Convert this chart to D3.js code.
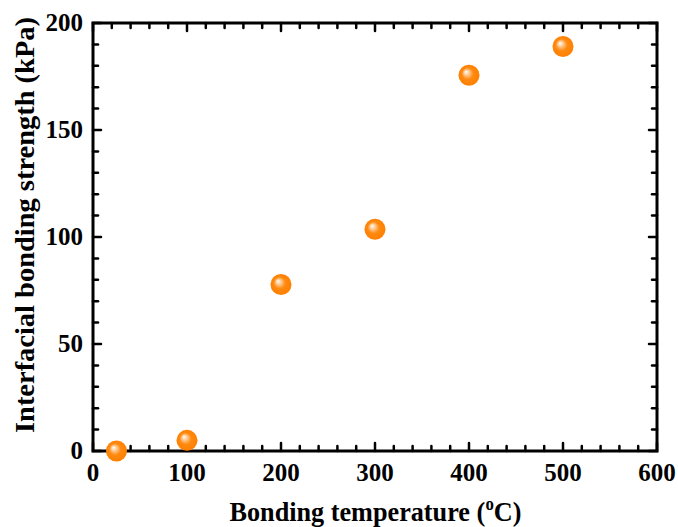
<!DOCTYPE html>
<html>
<head>
<meta charset="utf-8">
<script src="https://cdn.jsdelivr.net/npm/d3@7"></script>
<style>
  body { margin: 0; background: #fff; }
  svg text { font-family: "Liberation Serif", "Times New Roman", serif; font-weight: bold; }
</style>
</head>
<body>
<div id="chart"></div>
<script>
// Bonding temperature (°C) vs interfacial bonding strength (kPa)
const temperatures = [25, 100, 200, 300, 400, 500];
const strengths = [0, 5, 77.8, 103.6, 175.6, 189];
const xTicks = [0, 100, 200, 300, 400, 500, 600];
const yTicks = [0, 50, 100, 150, 200];

const W = 678, H = 527;
const margin = { top: 23, right: 21, bottom: 76, left: 93 };
const width = W - margin.left - margin.right;
const height = H - margin.top - margin.bottom;

const svg = d3.select("#chart").append("svg")
  .attr("width", W).attr("height", H);

const defs = svg.append("defs");
const grad = defs.append("radialGradient")
  .attr("id", "ball")
  .attr("cx", "50%").attr("cy", "50%").attr("r", "50%")
  .attr("fx", "35%").attr("fy", "33%");
grad.append("stop").attr("offset", "0%").attr("stop-color", "#ffffff");
grad.append("stop").attr("offset", "18%").attr("stop-color", "#ffd9b0");
grad.append("stop").attr("offset", "55%").attr("stop-color", "#ff8a10");
grad.append("stop").attr("offset", "100%").attr("stop-color", "#ff7f00");

const g = svg.append("g").attr("transform", `translate(${margin.left},${margin.top})`);

const x = d3.scaleLinear().domain([0, 600]).range([0, width]);
const y = d3.scaleLinear().domain([0, 200]).range([height, 0]);

const xMinor = d3.range(0, 601, 20).filter(v => v % 100 !== 0);
const yMinor = d3.range(0, 201, 10).filter(v => v % 50 !== 0);

// ticks, pointing inward on all four sides
const tickStyle = sel => sel.attr("stroke", "#000").attr("stroke-width", 2.5).attr("stroke-linecap", "round");

function xTickMarks(vals, len) {
  g.append("g").selectAll("line").data(vals).enter().append("line")
    .attr("x1", d => x(d)).attr("x2", d => x(d))
    .attr("y1", height).attr("y2", height - len).call(tickStyle);
  g.append("g").selectAll("line").data(vals).enter().append("line")
    .attr("x1", d => x(d)).attr("x2", d => x(d))
    .attr("y1", 0).attr("y2", len).call(tickStyle);
}
function yTickMarks(vals, len) {
  g.append("g").selectAll("line").data(vals).enter().append("line")
    .attr("x1", 0).attr("x2", len)
    .attr("y1", d => y(d)).attr("y2", d => y(d)).call(tickStyle);
  g.append("g").selectAll("line").data(vals).enter().append("line")
    .attr("x1", width).attr("x2", width - len)
    .attr("y1", d => y(d)).attr("y2", d => y(d)).call(tickStyle);
}
xTickMarks(xTicks, 8);
xTickMarks(xMinor, 5);
yTickMarks(yTicks, 8);
yTickMarks(yMinor, 5);

// frame
g.append("rect")
  .attr("x", 0).attr("y", 0).attr("width", width).attr("height", height)
  .attr("fill", "none").attr("stroke", "#000").attr("stroke-width", 3);

// tick labels
g.append("g").selectAll("text").data(xTicks).enter().append("text")
  .attr("x", d => x(d)).attr("y", height + 30)
  .attr("text-anchor", "middle").style("font-size", "25px")
  .text(d => d);
g.append("g").selectAll("text").data(yTicks).enter().append("text")
  .attr("x", -10).attr("y", d => y(d) + 8)
  .attr("text-anchor", "end").style("font-size", "25px")
  .text(d => d);

// x title: three pieces side by side, squeezed to the reference width
const xt = svg.append("g");
const parts = [
  { s: "Bonding temperature (", size: 28, dy: 0 },
  { s: "o", size: 18, dy: -11 },
  { s: "C)", size: 28, dy: 0 }
];
let cursor = 0;
parts.forEach(p => {
  const t = xt.append("text")
    .attr("x", cursor).attr("y", p.dy)
    .style("font-size", p.size + "px")
    .text(p.s);
  cursor += t.node().getComputedTextLength();
});
const sx = 292 / cursor;
xt.attr("transform", `translate(${375.5 - 146},521) scale(${sx},1)`);

svg.append("text")
  .attr("transform", `translate(34,225) rotate(-90)`)
  .attr("text-anchor", "middle").style("font-size", "28px")
  .attr("textLength", 416).attr("lengthAdjust", "spacingAndGlyphs")
  .text("Interfacial bonding strength (kPa)");

// points
g.append("g").selectAll("circle").data(temperatures).enter().append("circle")
  .attr("cx", d => x(d))
  .attr("cy", (d, i) => y(strengths[i]))
  .attr("r", 10.5)
  .attr("fill", "url(#ball)");
</script>
</body>
</html>
